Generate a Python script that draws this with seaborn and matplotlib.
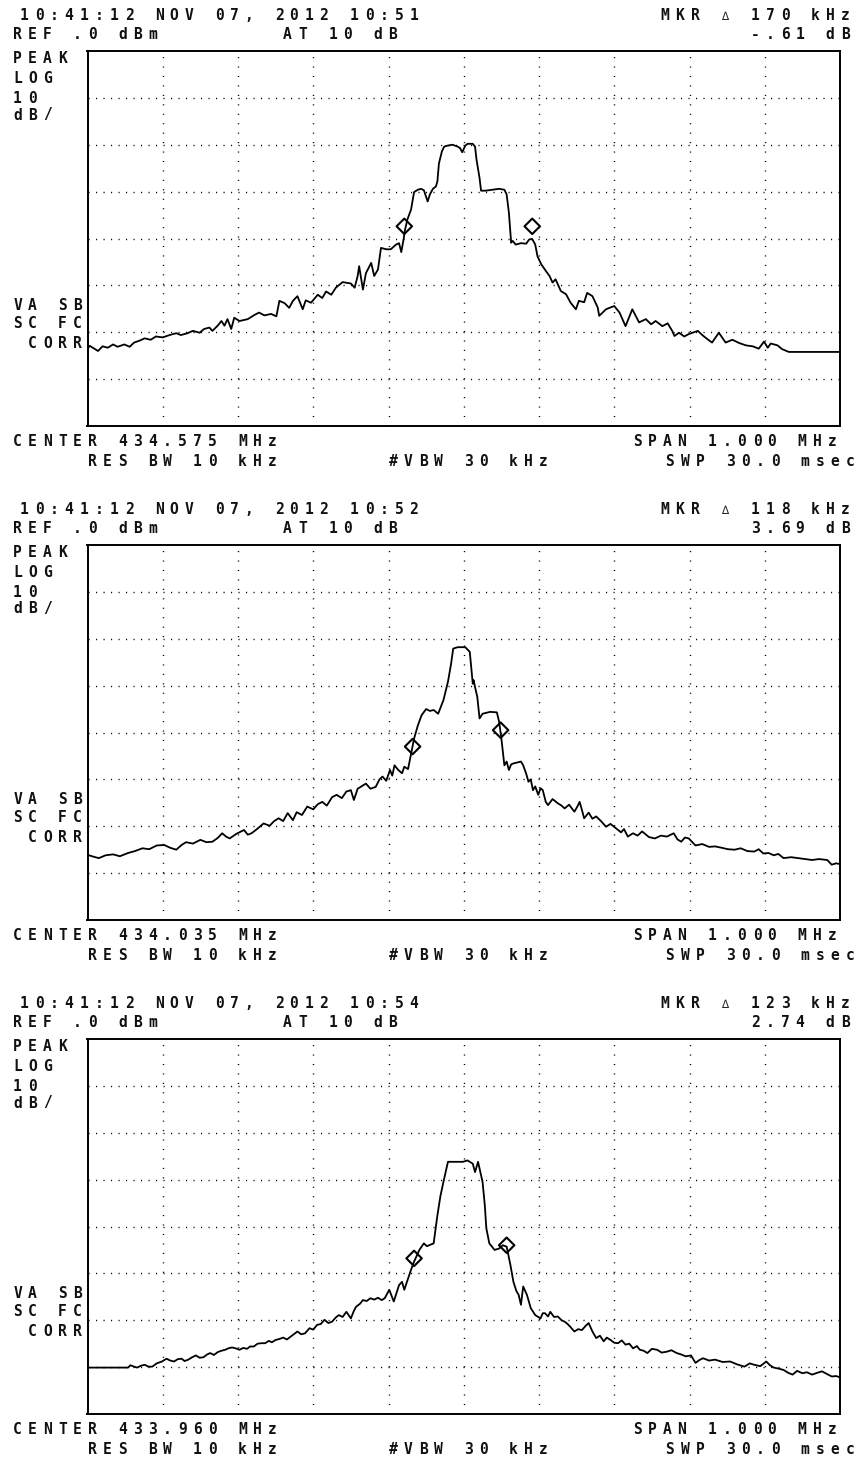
import numpy as np
import matplotlib
matplotlib.use("Agg")
import matplotlib.pyplot as plt
import seaborn as sns

# three sweeps, offset from center in kHz / level in dBm
sweep_1051 = [(-500, -63.5), (-497, -62.9), (-493, -63.3), (-486, -64.0), (-480, -63.0), (-473, -63.3),
              (-466, -62.6), (-460, -63.1), (-451, -62.6), (-444, -63.1), (-438, -62.2), (-431, -61.8),
              (-424, -61.3), (-416, -61.6), (-409, -60.9), (-400, -61.1), (-391, -60.6), (-382, -60.2),
              (-376, -60.6), (-367, -60.2), (-360, -59.7), (-351, -60.1), (-345, -59.3), (-338, -59.0),
              (-334, -59.7), (-327, -58.6), (-322, -57.6), (-318, -58.6), (-314, -57.2), (-309, -59.3),
              (-305, -56.9), (-298, -57.6), (-287, -57.2), (-278, -56.3), (-272, -55.8), (-265, -56.4),
              (-256, -56.1), (-249, -56.6), (-245, -53.3), (-238, -53.8), (-232, -54.8), (-227, -53.3),
              (-221, -52.3), (-214, -55.1), (-210, -53.2), (-203, -53.7), (-194, -52.0), (-188, -52.7),
              (-183, -51.3), (-176, -52.0), (-170, -50.5), (-161, -49.3), (-150, -49.6), (-145, -50.5),
              (-141, -48.0), (-139, -45.9), (-134, -50.9), (-130, -47.4), (-123, -45.2), (-119, -48.0),
              (-114, -46.6), (-110, -42.0), (-103, -42.3), (-97, -42.3), (-90, -41.3), (-86, -41.0),
              (-83, -42.9), (-80, -40.2), (-78, -38.1), (-75, -36.0), (-70, -33.8), (-66, -30.1),
              (-61, -29.6), (-57, -29.4), (-53, -29.7), (-48, -32.1), (-45, -30.6), (-41, -29.4),
              (-37, -28.9), (-35, -27.8), (-33, -24.0), (-29, -21.4), (-26, -20.4), (-22, -20.2),
              (-15, -20.0), (-8, -20.4), (-5, -20.7), (-2, -21.6), (2, -20.2), (5, -19.8), (12, -19.8),
              (15, -20.4), (17, -23.2), (21, -27.1), (23, -29.8), (29, -29.8), (38, -29.6), (47, -29.4),
              (54, -29.6), (57, -30.6), (60, -34.5), (63, -40.9), (65, -40.5), (69, -41.3), (76, -41.0),
              (83, -41.1), (87, -40.2), (91, -40.1), (95, -41.3), (98, -43.8), (103, -45.5), (109, -46.9),
              (114, -48.0), (118, -49.4), (122, -48.7), (129, -51.2), (136, -51.9), (142, -53.7),
              (149, -55.1), (153, -53.3), (160, -53.6), (164, -51.6), (171, -52.3), (178, -54.7),
              (180, -56.5), (189, -55.1), (200, -54.4), (207, -55.8), (215, -58.7), (224, -55.1),
              (233, -57.9), (242, -57.2), (249, -58.3), (255, -57.6), (264, -58.7), (271, -58.1),
              (277, -59.7), (280, -60.8), (286, -60.1), (293, -60.9), (299, -60.4), (311, -59.7),
              (317, -60.6), (324, -61.5), (330, -62.2), (339, -60.1), (348, -62.2), (357, -61.6),
              (366, -62.3), (375, -62.8), (384, -63.0), (392, -63.5), (399, -62.0), (404, -63.3),
              (408, -62.4), (417, -62.8), (423, -63.6), (432, -64.2), (500, -64.2)]

sweep_1052 = [(-500, -66.1), (-492, -66.5), (-485, -66.8), (-476, -66.2), (-466, -66.0), (-457, -66.4),
              (-446, -65.7), (-437, -65.3), (-427, -64.7), (-418, -64.9), (-408, -64.1), (-398, -64.0),
              (-390, -64.6), (-382, -65.0), (-375, -64.0), (-369, -63.4), (-360, -63.7), (-350, -62.9),
              (-342, -63.4), (-334, -63.3), (-327, -62.5), (-321, -61.5), (-316, -62.2), (-311, -62.6),
              (-302, -61.6), (-292, -60.8), (-287, -61.8), (-282, -61.5), (-274, -60.5), (-266, -59.4),
              (-258, -59.9), (-252, -58.9), (-246, -58.3), (-240, -58.9), (-234, -57.2), (-227, -58.7),
              (-222, -57.0), (-215, -57.6), (-208, -55.8), (-200, -56.4), (-194, -55.3), (-188, -54.8),
              (-182, -55.6), (-175, -53.8), (-169, -53.3), (-162, -54.0), (-156, -52.6), (-150, -52.3),
              (-146, -54.4), (-141, -52.0), (-135, -51.4), (-130, -50.9), (-124, -52.0), (-117, -51.6),
              (-112, -50.0), (-108, -49.4), (-103, -50.3), (-98, -48.0), (-95, -49.2), (-92, -47.0),
              (-87, -48.0), (-82, -48.7), (-79, -47.3), (-74, -47.8), (-70, -44.5), (-66, -41.3),
              (-61, -38.5), (-56, -36.3), (-50, -35.0), (-45, -35.4), (-40, -35.2), (-34, -36.0),
              (-27, -33.1), (-21, -29.2), (-17, -25.5), (-14, -22.1), (-8, -21.8), (2, -21.8), (8, -22.8),
              (12, -29.6), (13, -28.8), (15, -30.3), (18, -32.4), (21, -37.0), (25, -36.0), (35, -35.6),
              (44, -35.7), (47, -37.7), (50, -41.3), (54, -47.0), (57, -46.2), (60, -48.0), (63, -46.8),
              (66, -46.6), (76, -46.2), (79, -47.0), (83, -48.8), (86, -50.5), (89, -50.0), (92, -52.3),
              (95, -51.5), (99, -53.3), (102, -51.9), (105, -52.3), (109, -54.8), (112, -55.5),
              (118, -54.2), (125, -55.1), (130, -55.6), (134, -56.2), (140, -55.4), (147, -56.9),
              (151, -55.8), (154, -54.8), (157, -56.5), (160, -58.3), (166, -57.1), (171, -58.4),
              (176, -57.9), (183, -59.0), (189, -60.1), (195, -59.5), (202, -60.4), (209, -61.3),
              (213, -60.6), (218, -62.2), (225, -61.5), (231, -62.0), (237, -61.1), (246, -62.3),
              (254, -62.6), (262, -62.0), (270, -62.2), (279, -61.5), (284, -62.8), (289, -63.3),
              (294, -62.4), (299, -62.6), (308, -64.1), (317, -63.8), (326, -64.4), (334, -64.3),
              (343, -64.6), (351, -64.9), (360, -65.0), (368, -64.7), (377, -65.3), (386, -65.4),
              (392, -64.9), (398, -65.8), (405, -65.7), (412, -66.2), (418, -65.9), (425, -66.8),
              (435, -66.6), (444, -66.8), (453, -67.0), (463, -67.2), (472, -67.0), (483, -67.2),
              (489, -68.2), (495, -67.9), (500, -68.1)]

sweep_1054 = [(-500, -70.1), (-446, -70.1), (-443, -69.6), (-438, -69.9), (-434, -70.1), (-429, -69.7),
              (-424, -69.5), (-419, -69.9), (-414, -69.9), (-408, -69.2), (-401, -68.8), (-395, -68.2),
              (-390, -68.6), (-385, -68.8), (-380, -68.3), (-375, -68.2), (-371, -68.7), (-366, -68.4),
              (-361, -67.9), (-356, -67.5), (-351, -68.0), (-346, -67.9), (-341, -67.3), (-337, -67.0),
              (-332, -67.4), (-327, -66.8), (-322, -66.5), (-317, -66.3), (-313, -66.0), (-308, -65.8),
              (-303, -66.0), (-298, -66.3), (-293, -65.9), (-288, -66.1), (-284, -65.6), (-279, -65.6),
              (-274, -65.0), (-269, -64.9), (-264, -64.9), (-259, -64.4), (-255, -64.7), (-250, -64.2),
              (-245, -64.0), (-240, -63.7), (-235, -64.1), (-230, -63.5), (-226, -63.0), (-221, -62.4),
              (-216, -63.0), (-211, -62.8), (-205, -61.7), (-200, -62.0), (-195, -61.0), (-190, -60.8),
              (-185, -59.9), (-180, -60.6), (-175, -60.3), (-170, -59.4), (-166, -58.9), (-161, -59.3),
              (-156, -58.2), (-150, -59.6), (-146, -58.0), (-143, -57.1), (-138, -56.5), (-134, -55.7),
              (-129, -55.9), (-124, -55.3), (-119, -55.6), (-114, -55.2), (-109, -55.7), (-105, -55.3),
              (-99, -53.5), (-93, -56.0), (-89, -54.0), (-86, -52.5), (-82, -51.8), (-79, -53.5),
              (-74, -51.1), (-70, -49.2), (-66, -47.5), (-59, -45.0), (-53, -43.6), (-49, -44.2),
              (-46, -44.0), (-40, -43.6), (-35, -37.6), (-31, -33.5), (-27, -30.5), (-21, -26.2),
              (-11, -26.2), (-1, -26.2), (5, -25.9), (12, -26.6), (15, -28.4), (19, -26.2), (25, -30.5),
              (28, -35.5), (30, -40.4), (34, -43.6), (41, -45.0), (47, -44.7), (52, -44.0), (57, -44.3),
              (62, -48.2), (66, -51.8), (70, -53.8), (73, -54.6), (76, -56.7), (79, -52.8), (84, -54.6),
              (89, -57.4), (95, -58.9), (99, -59.3), (102, -59.6), (105, -58.5), (108, -58.5),
              (112, -59.2), (115, -58.2), (120, -59.3), (125, -59.2), (130, -60.0), (134, -60.3),
              (138, -60.8), (141, -61.3), (147, -62.4), (152, -61.9), (157, -62.1), (162, -61.2),
              (166, -60.6), (171, -62.4), (176, -63.8), (181, -63.3), (186, -64.5), (190, -63.7),
              (195, -64.2), (200, -64.8), (205, -64.9), (210, -64.3), (215, -65.2), (220, -65.0),
              (225, -66.0), (230, -65.5), (234, -66.3), (239, -66.5), (244, -67.0), (250, -66.1),
              (257, -66.3), (263, -66.9), (270, -66.7), (276, -66.4), (283, -67.0), (289, -67.3),
              (295, -67.7), (302, -67.5), (308, -69.1), (313, -68.5), (318, -68.1), (326, -68.6),
              (334, -68.4), (344, -68.9), (354, -68.8), (363, -69.4), (373, -69.9), (380, -69.2),
              (386, -69.5), (394, -69.8), (402, -68.8), (407, -69.6), (412, -70.1), (418, -70.3),
              (425, -70.6), (431, -71.2), (437, -71.6), (443, -70.8), (450, -71.3), (456, -71.1),
              (463, -71.6), (470, -71.2), (476, -70.9), (483, -71.5), (489, -72.0), (495, -71.9),
              (500, -72.2)]

# marker pairs (kHz, dBm)
markers_1051 = [(-79, -37.4), (91, -37.4)]
markers_1052 = [(-68, -43.0), (49, -39.5)]
markers_1054 = [(-66, -46.8), (57, -44.0)]

times = ["10:51", "10:52", "10:54"]
centers = ["434.575", "434.035", "433.960"]
mkr_delta = ["170", "118", "123"]
mkr_db = ["-.61", "3.69", "2.74"]

sns.set_theme(style="white")
plt.rcParams["font.family"] = ["DejaVu Sans Mono", "DejaVu Sans"]
plt.rcParams["lines.scale_dashes"] = False

W, H = 859, 1458
fig = plt.figure(figsize=(W / 100, H / 100), dpi=100)
fig.patch.set_facecolor("white")

PITCH = 15.0


def mono(xc, yb, s, size=10.5, pitch=PITCH):
    # place each char in its own cell, like the analyzer's fixed font
    for i, ch in enumerate(s):
        if ch == " ":
            continue
        fig.text((xc + i * pitch) / W, 1 - yb / H, ch, ha="center", va="baseline",
                 fontsize=size, fontweight="bold", color="#111111")


panels = [(sweep_1051, markers_1051), (sweep_1052, markers_1052), (sweep_1054, markers_1054)]

for k, (sweep, mk) in enumerate(panels):
    dy = 494 * k
    ax = fig.add_axes([87.5 / W, 1 - (426 + dy) / H, 752.5 / W, 375 / H])
    f = [p[0] for p in sweep]
    lvl = [p[1] for p in sweep]
    sns.lineplot(x=f, y=lvl, ax=ax, color="black", linewidth=1.3, sort=False, estimator=None)
    sns.scatterplot(x=[m[0] for m in mk], y=[m[1] for m in mk], ax=ax, marker="D", s=62,
                    facecolor="none", edgecolor="black", linewidth=1.5, zorder=5)
    ax.set_xlim(-500, 500)
    ax.set_ylim(-80, 0)
    ax.set_xticks(np.arange(-400, 500, 100))
    ax.set_yticks(np.arange(-70, 0, 10))
    ax.tick_params(length=0, labelbottom=False, labelleft=False)
    ax.set_xlabel("")
    ax.set_ylabel("")
    ax.xaxis.grid(True, color="black", linewidth=1.0, linestyle=(0, (0.8, 6.0)))
    ax.yaxis.grid(True, color="black", linewidth=1.0, linestyle=(0, (0.8, 4.6)))
    for sp in ax.spines.values():
        sp.set_visible(True)
        sp.set_color("black")
        sp.set_linewidth(1.4)

    # header and footer annotations
    mono(24, 19.5 + dy, "10:41:12 NOV 07, 2012 " + times[k])
    mono(665, 19.5 + dy, "MKR   " + mkr_delta[k] + " kHz")
    fig.text(725 / W, 1 - (19.5 + dy) / H, "\u2206", ha="center", va="baseline", fontsize=8.5)
    mono(17.5, 39 + dy, "REF .0 dBm        AT 10 dB")
    val = mkr_db[k] + " dB"
    mono(845 - (len(val) - 1) * PITCH, 39 + dy, val)
    mono(17.5, 63 + dy, "PEAK")
    mono(17.5, 83 + dy, "LOG")
    mono(17.5, 103 + dy, "10")
    mono(17.5, 119.5 + dy, "dB/")
    mono(17.5, 310.5 + dy, "VA SB")
    mono(17.5, 328.5 + dy, "SC FC")
    mono(17.5, 348 + dy, " CORR")
    mono(17.5, 446.5 + dy, "CENTER " + centers[k] + " MHz")
    mono(17.5, 465.5 + dy, "     RES BW 10 kHz")
    mono(393, 465.5 + dy, "#VBW 30 kHz")
    mono(637, 446 + dy, "SPAN 1.000 MHz")
    mono(670, 465.5 + dy, "SWP 30.0 msec")

fig.savefig("out.png", dpi=100, facecolor="white")
